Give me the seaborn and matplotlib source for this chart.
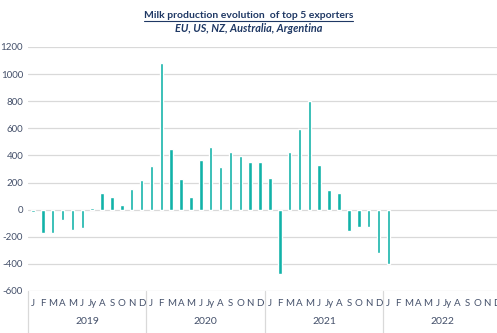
import numpy as np
import pandas as pd
import matplotlib
matplotlib.use("Agg")
import matplotlib.pyplot as plt
import seaborn as sns
from matplotlib.lines import Line2D
import matplotlib.transforms as mtransforms

years = ["2019", "2020", "2021", "2022"]
months = ["J", "F", "M", "A", "M", "J", "Jy", "A", "S", "O", "N", "D"]
v2019 = [-15, -170, -170, -75, -150, -135, 15, 125, 90, 32, 150, 220]
v2020 = [320, 1080, 445, 225, 95, 365, 465, 315, 425, 395, 350, 355]
v2021 = [230, -475, 425, 595, 805, 330, 145, 125, -160, -130, -125, -320]
v2022 = [-400] + [np.nan] * 11

values = v2019 + v2020 + v2021 + v2022
periods = [f"{y}-{i:02d}" for y in years for i in range(1, 13)]
df = pd.DataFrame({"period": periods, "value": values})

sns.set_theme(style="white")
plt.rcParams["font.family"] = ["Lato", "DejaVu Sans"]

W, H = 497, 333
fig = plt.figure(figsize=(W / 100, H / 100), dpi=100)
left = 28 / W
bottom = (H - 291) / H
top = (H - 47) / H
ax = fig.add_axes([left, bottom, 1.0 - left, top - bottom])

bar_color = "#12B2A8"
sns.barplot(data=df, x="period", y="value", order=periods, color=bar_color,
            width=0.36, ax=ax, saturation=1, errorbar=None)

ax.set_ylim(-600, 1200)
ax.set_xlim(-0.5, 45.6)
ax.set_yticks(range(-600, 1201, 200))
ax.yaxis.grid(True, color="#D9D9D9", linewidth=0.9)
ax.set_axisbelow(True)
for s in ax.spines.values():
    s.set_visible(False)
ax.set_xlabel("")
ax.set_ylabel("")

txt_color = "#44506A"
ax.tick_params(axis="y", length=0, labelsize=7, labelcolor=txt_color, pad=3.5)
ax.set_yticklabels([str(v) for v in range(-600, 1201, 200)])

ax.set_xticks(range(len(periods)))
ax.set_xticklabels(months * len(years))
ax.tick_params(axis="x", length=0, labelsize=7, labelcolor=txt_color, pad=6)

trans = mtransforms.blended_transform_factory(ax.transData, fig.transFigure)
for i, y in enumerate(years):
    ax.text(i * 12 + 5.5, (H - 322) / H, y, transform=trans, ha="center",
            va="center", fontsize=7.5, color=txt_color)
for i in range(len(years) + 1):
    x = i * 12 - 0.5
    ax.add_line(Line2D([x, x], [0, (H - 291) / H], transform=trans,
                       color="#D9D9D9", linewidth=0.9, clip_on=False))

title_color = "#1F3864"
t1 = fig.text(0.5, (H - 15) / H, "Milk production evolution  of top 5 exporters",
              ha="center", va="center", fontsize=7.5, fontweight="bold",
              color=title_color)
fig.text(0.5, (H - 29) / H, "EU, US, NZ, Australia, Argentina", ha="center",
         va="center", fontsize=7.8, fontweight="bold", fontstyle="italic",
         color=title_color)

fig.canvas.draw()
bb = t1.get_window_extent(fig.canvas.get_renderer())
yline = (bb.y0 - 1) / H
fig.add_artist(Line2D([bb.x0 / W, bb.x1 / W], [yline, yline],
                      transform=fig.transFigure, color=title_color, linewidth=0.8))

fig.savefig("out.png", dpi=100)
